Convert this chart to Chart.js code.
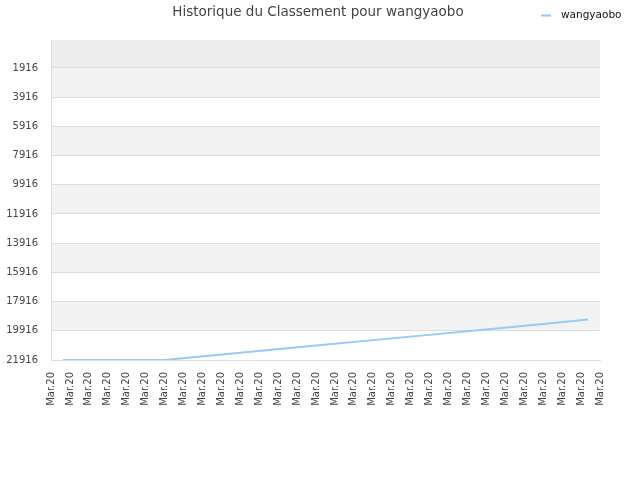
<!DOCTYPE html>
<html><head><meta charset="utf-8">
<script src="https://cdn.jsdelivr.net/npm/chart.js@4"></script>
<style>html,body{margin:0;padding:0;background:#fff;}#wrap{width:640px;height:480px;}</style>
</head><body><div id="wrap"><canvas id="c" width="640" height="480"></canvas></div>
<script>
const titleText = 'Historique du Classement pour wangyaobo';
const seriesName = 'wangyaobo';
const xTickLabels = ['Mar.20','Mar.20','Mar.20','Mar.20','Mar.20','Mar.20','Mar.20','Mar.20','Mar.20','Mar.20','Mar.20','Mar.20','Mar.20','Mar.20','Mar.20','Mar.20','Mar.20','Mar.20','Mar.20','Mar.20','Mar.20','Mar.20','Mar.20','Mar.20','Mar.20','Mar.20','Mar.20','Mar.20','Mar.20','Mar.20'];
const pointPos = [0.63, 6.0, 10, 14, 18, 22, 26, 28.37];
const rankValues = [21916, 21916, 21420, 20930, 20435, 19940, 19445, 19150];
const yTickValues = [1916, 3916, 5916, 7916, 9916, 11916, 13916, 15916, 17916, 19916, 21916];
const lineColor = '#99c9f5';

const bandPlugin = {
  id: 'bands',
  beforeDraw(chart) {
    const {ctx, chartArea: a, scales: {y}} = chart;
    ctx.save();
    const edges = [y.min].concat(yTickValues);
    for (let i = 0; i < edges.length - 1; i++) {
      const y0 = y.getPixelForValue(edges[i]);
      const y1 = y.getPixelForValue(edges[i + 1]);
      let col = null;
      if (i === 0) col = '#ededed';
      else if (i % 2 === 1) col = '#f3f3f3';
      if (col) { ctx.fillStyle = col; ctx.fillRect(a.left, y0, a.right - a.left, y1 - y0); }
    }
    ctx.restore();
  },
  afterDraw(chart) {
    const ctx = chart.ctx;
    ctx.save();
    ctx.fillStyle = '#444';
    ctx.font = '13.5px "DejaVu Sans"';
    ctx.textAlign = 'center';
    ctx.textBaseline = 'middle';
    ctx.fillText(titleText, 318, 12);
    ctx.strokeStyle = lineColor;
    ctx.lineWidth = 2;
    ctx.beginPath(); ctx.moveTo(541, 15.5); ctx.lineTo(551, 15.5); ctx.stroke();
    ctx.fillStyle = '#111';
    ctx.font = '10.5px "DejaVu Sans"';
    ctx.textAlign = 'left';
    ctx.fillText(seriesName, 561, 15);
    ctx.restore();
  }
};

new Chart(document.getElementById('c'), {
  type: 'line',
  data: {
    datasets: [{
      label: seriesName,
      data: pointPos.map((x, i) => ({x: x, y: rankValues[i]})),
      borderColor: lineColor,
      backgroundColor: lineColor,
      borderWidth: 2,
      pointRadius: 0,
      tension: 0,
      fill: false
    }]
  },
  options: {
    responsive: false,
    animation: false,
    layout: {padding: {left: 0, right: 40, top: 40, bottom: 0}},
    plugins: {
      title: {display: false},
      legend: {display: false},
      tooltip: {enabled: false}
    },
    scales: {
      x: {
        type: 'linear', min: 0, max: 29,
        afterBuildTicks(s) { s.ticks = xTickLabels.map((_, i) => ({value: i})); },
        afterFit(s) { s.height = 120; s.paddingLeft = 0; },
        ticks: {
          autoSkip: false, maxRotation: 90, minRotation: 90, padding: 12,
          color: '#444', font: {family: 'DejaVu Sans', size: 10},
          callback: (v, i) => xTickLabels[i]
        },
        grid: {display: false, drawTicks: false},
        border: {color: '#dddddd'}
      },
      y: {
        reverse: true, min: 0, max: 21916,
        afterBuildTicks(s) { s.ticks = yTickValues.map(v => ({value: v})); },
        afterFit(s) { s.width = 51; s.paddingTop = 0; s.paddingBottom = 0; },
        ticks: {color: '#444', font: {family: 'DejaVu Sans', size: 10}, padding: 13, callback: v => String(v)},
        grid: {color: '#dddddd', drawTicks: false},
        border: {color: '#dddddd'}
      }
    }
  },
  plugins: [bandPlugin]
});
</script></body></html>
